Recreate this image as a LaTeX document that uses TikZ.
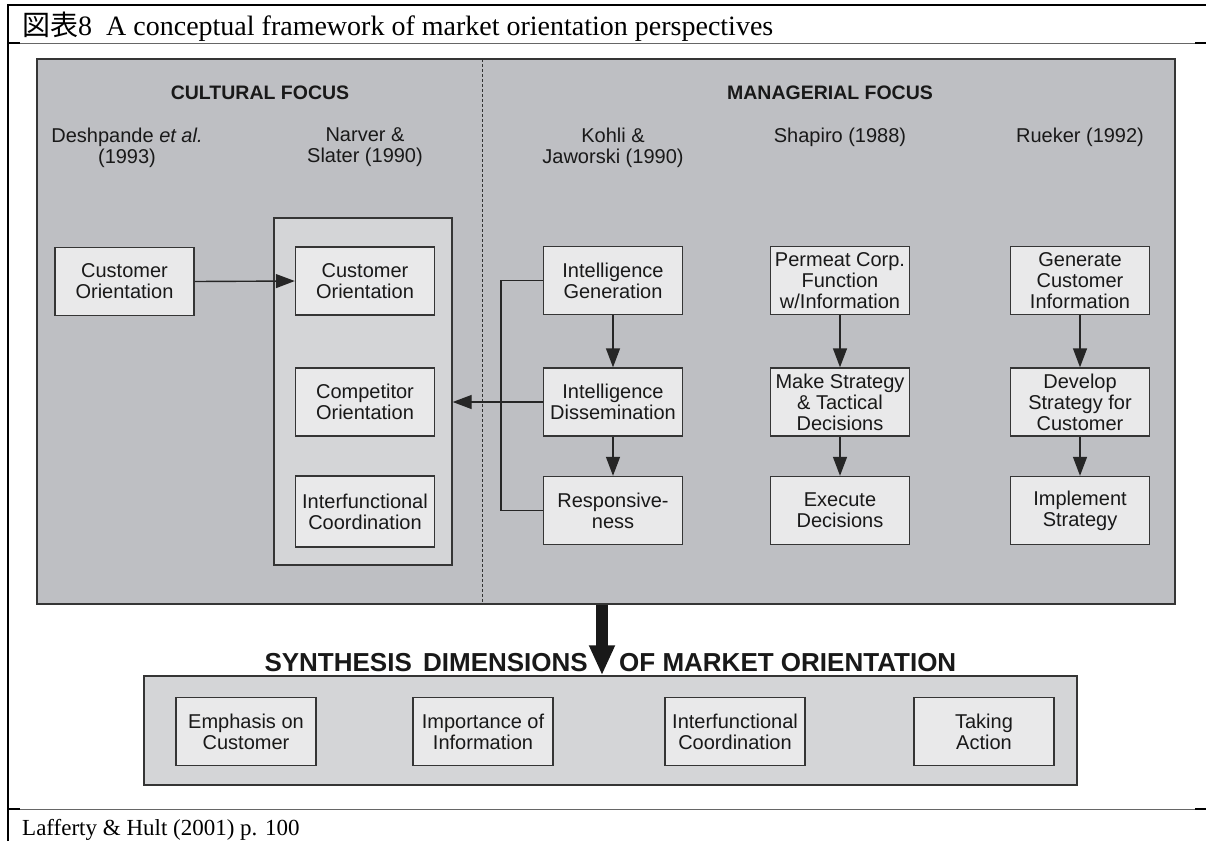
\documentclass[tikz,border=0pt]{standalone}
\usepackage{fontspec}
\setmainfont{Liberation Serif}
\setsansfont{Liberation Sans}
\newfontfamily\jpfont{Noto Sans CJK JP}
\usetikzlibrary{arrows.meta, positioning}
\definecolor{panelgray}{HTML}{BEBFC3}
\definecolor{groupgray}{HTML}{D4D5D7}
\definecolor{boxgray}{HTML}{E9E9EA}
\definecolor{linegray}{HTML}{353535}

\begin{document}
\begin{tikzpicture}[x=1pt, y=-1pt,
	box/.style={draw=linegray, line width=1.4pt, fill=boxgray, minimum width=139pt, minimum height=68pt, inner sep=1pt, align=center, text=black!90, font=\sffamily\fontsize{20}{21}\selectfont},
	head/.style={text=black!90, font=\sffamily\bfseries\fontsize{19.5}{21}\selectfont},
	author/.style={align=center, text=black!90, font=\sffamily\fontsize{20}{21}\selectfont},
	synth/.style={text=black!90, font=\sffamily\bfseries\fontsize{26}{28}\selectfont},
	flow/.style={draw=black!85, line width=1.4pt, -{Triangle[width=14pt,length=19pt]}},
	link/.style={draw=black!85, line width=1.4pt}]
		\useasboundingbox (0,0) rectangle (1206,841);
		
		% Table frame, title and source
		\draw[line width=2.5pt] (8,841) -- (8,5) -- (1206,5);
		\draw[line width=1pt, black!60] (8,43) -- (1206,43);
		\draw[line width=1pt, black!60] (8,809) -- (1206,809);
		\draw[line width=2.5pt] (8,43) -- (20,43);
		\draw[line width=2.5pt] (1195,43) -- (1206,43);
		\draw[line width=2.5pt] (8,809) -- (20,809);
		\draw[line width=2.5pt] (1195,809) -- (1206,809);
		\node[anchor=base west, inner sep=0pt, font=\fontsize{28}{30}\selectfont] (title) at (22,35) {{\jpfont 図表}8\hspace{14pt}A conceptual framework of market orientation perspectives};
		\node[anchor=base west, inner sep=0pt, font=\fontsize{23}{26}\selectfont] (source) at (22,835) {Lafferty \& Hult (2001) p. 100};
		
		% Draw the focus panel and the dashed divider
		\node[draw=linegray, line width=1.5pt, fill=panelgray, minimum width=1138pt, minimum height=545pt, inner sep=0pt] (panel) at (606,331.5) {};
		\draw[black!80, line width=1pt, dash pattern=on 3pt off 2pt] (482,59) -- (482,604);
		\node[head] (cult) at (260,93) {CULTURAL FOCUS};
		\node[head] (mgr) at (830,93) {MANAGERIAL FOCUS};
		
		% Labels for authors
		\node[author] (desh) at (127,147.5) {Deshpande \textit{et al.}\\(1993)};
		\node[author] (narv) at (365,147.5) {Narver \&\\Slater (1990)};
		\node[author] (kohl) at (613,147.5) {Kohli \&\\Jaworski (1990)};
		\node[author] (shap) at (840,137) {Shapiro (1988)};
		\node[author] (ruek) at (1080,137) {Rueker (1992)};
		
		% Cultural focus boxes
		\node[draw=linegray, line width=1.4pt, fill=groupgray, minimum width=178pt, minimum height=347pt, inner sep=0pt] (narver) at (363,391.5) {};
		\node[box] (dco) at (124.5,281.5) {Customer\\Orientation};
		\node[box] (nco) at (365,281) {Customer\\Orientation};
		\node[box] (ncomp) at (365,402) {Competitor\\Orientation};
		\node[box, minimum height=71pt] (ninter) at (365,511.5) {Interfunctional\\Coordination};
		
		% Managerial focus boxes
		\node[box] (kgen) at (613,280.5) {Intelligence\\Generation};
		\node[box] (kdis) at (613,402) {Intelligence\\Dissemination};
		\node[box] (kresp) at (613,510.5) {Responsive-\\ness};
		\node[box] (sperm) at (840,280.5) {Permeat Corp.\\Function\\w/Information};
		\node[box] (smake) at (840,402) {Make Strategy\\\& Tactical\\Decisions};
		\node[box] (sexec) at (840,510.5) {Execute\\Decisions};
		\node[box] (rgen) at (1080,280.5) {Generate\\Customer\\Information};
		\node[box] (rdev) at (1080,402) {Develop\\Strategy for\\Customer};
		\node[box] (rimpl) at (1080,510.5) {Implement\\Strategy};
		
		% Draw the arrows
		\draw[flow] (dco.east) -- (nco.west);
		\draw[flow] (kgen) -- (kdis);
		\draw[flow] (kdis) -- (kresp);
		\draw[flow] (sperm) -- (smake);
		\draw[flow] (smake) -- (sexec);
		\draw[flow] (rgen) -- (rdev);
		\draw[flow] (rdev) -- (rimpl);
		\draw[link] (kgen.west) -- ++(-42,0) |- (kresp.west);
		\draw[flow] (kdis.west) -- (kdis.west -| narver.east);
		
		% Synthesis dimensions
		\node[draw=linegray, line width=1.5pt, fill=groupgray, minimum width=933pt, minimum height=109pt, inner sep=0pt] (dims) at (610.5,730.5) {};
		\node[box, minimum width=140pt] (emph) at (246,731.5) {Emphasis on\\Customer};
		\node[box, minimum width=140pt] (info) at (483,731.5) {Importance of\\Information};
		\node[box, minimum width=140pt] (coord) at (735,731.5) {Interfunctional\\Coordination};
		\node[box, minimum width=140pt] (act) at (984,731.5) {Taking\\Action};
		\node[synth, anchor=base east, inner sep=0pt] (synthl) at (588,671) {SYNTHESIS\hspace{4pt} DIMENSIONS};
		\node[synth, anchor=base west, inner sep=0pt] (synthr) at (619,671) {OF MARKET ORIENTATION};
		\coordinate (drop) at (602,0);
		\draw[black!90, line width=12pt, -{Triangle[width=24pt,length=30pt]}] (panel.south -| drop) -- (dims.north -| drop);
\end{tikzpicture}
\end{document}
